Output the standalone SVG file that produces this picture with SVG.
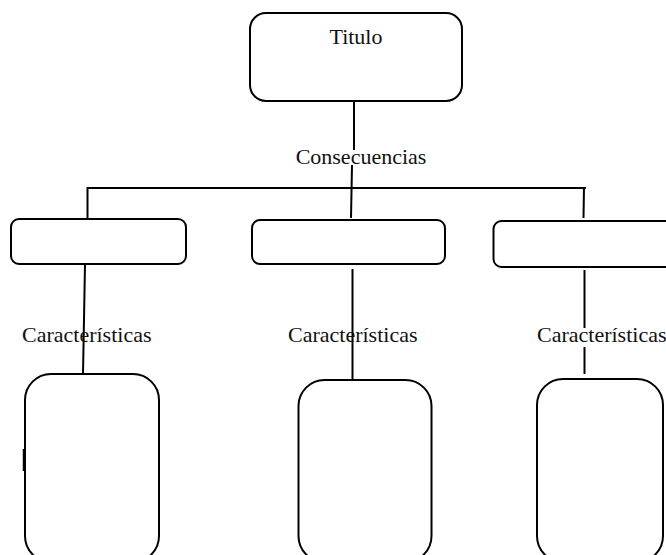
<svg xmlns="http://www.w3.org/2000/svg" width="666" height="555" viewBox="0 0 666 555">
<style>
.box{fill:#fff;stroke:#000;stroke-width:2}
.ln{fill:none;stroke:#000;stroke-width:2}
.t{font-family:"Liberation Serif","Times New Roman",serif;font-size:22px;fill:#111}
</style>
<rect width="666" height="555" fill="#fff"/>
<g id="connectors">
<line class="ln" x1="354" y1="101" x2="354" y2="150"/>
<line class="ln" x1="352" y1="165" x2="351" y2="218"/>
<line class="ln" x1="87" y1="188" x2="586" y2="188"/>
<line class="ln" x1="87.5" y1="187" x2="87.5" y2="219"/>
<line class="ln" x1="584" y1="187" x2="583.5" y2="218"/>
<line class="ln" x1="85" y1="264" x2="83" y2="374"/>
<line class="ln" x1="352.5" y1="269" x2="352.5" y2="380"/>
<line class="ln" x1="584.5" y1="270" x2="584.5" y2="328"/>
<line class="ln" x1="584.5" y1="347" x2="584.5" y2="374"/>
<line x1="24" y1="449" x2="24" y2="471" stroke="#000" stroke-width="2.5"/>
</g>
<g id="titulo">
<rect class="box" x="250" y="13" width="212" height="88" rx="16"/>
<text class="t" x="356" y="44" text-anchor="middle">Titulo</text>
</g>
<g id="consecuencias-label">
<text class="t" x="361" y="164" text-anchor="middle">Consecuencias</text>
</g>
<g id="box1">
<rect class="box" x="11" y="219" width="175" height="45" rx="8"/>
</g>
<g id="box2">
<rect class="box" x="252" y="220" width="193" height="44" rx="8"/>
</g>
<g id="box3">
<rect class="box" x="493.5" y="221" width="190" height="46" rx="8"/>
</g>
<g id="label1"><text class="t" x="22" y="342">Características</text></g>
<g id="label2"><text class="t" x="288" y="342">Características</text></g>
<g id="label3"><text class="t" x="537" y="342">Características</text></g>
<g id="det1">
<rect class="box" x="25" y="374" width="134" height="188" rx="26"/>
</g>
<g id="det2">
<rect class="box" x="298.5" y="380" width="133" height="182" rx="26"/>
</g>
<g id="det3">
<rect class="box" x="537" y="379" width="126" height="183" rx="26"/>
</g>
</svg>
